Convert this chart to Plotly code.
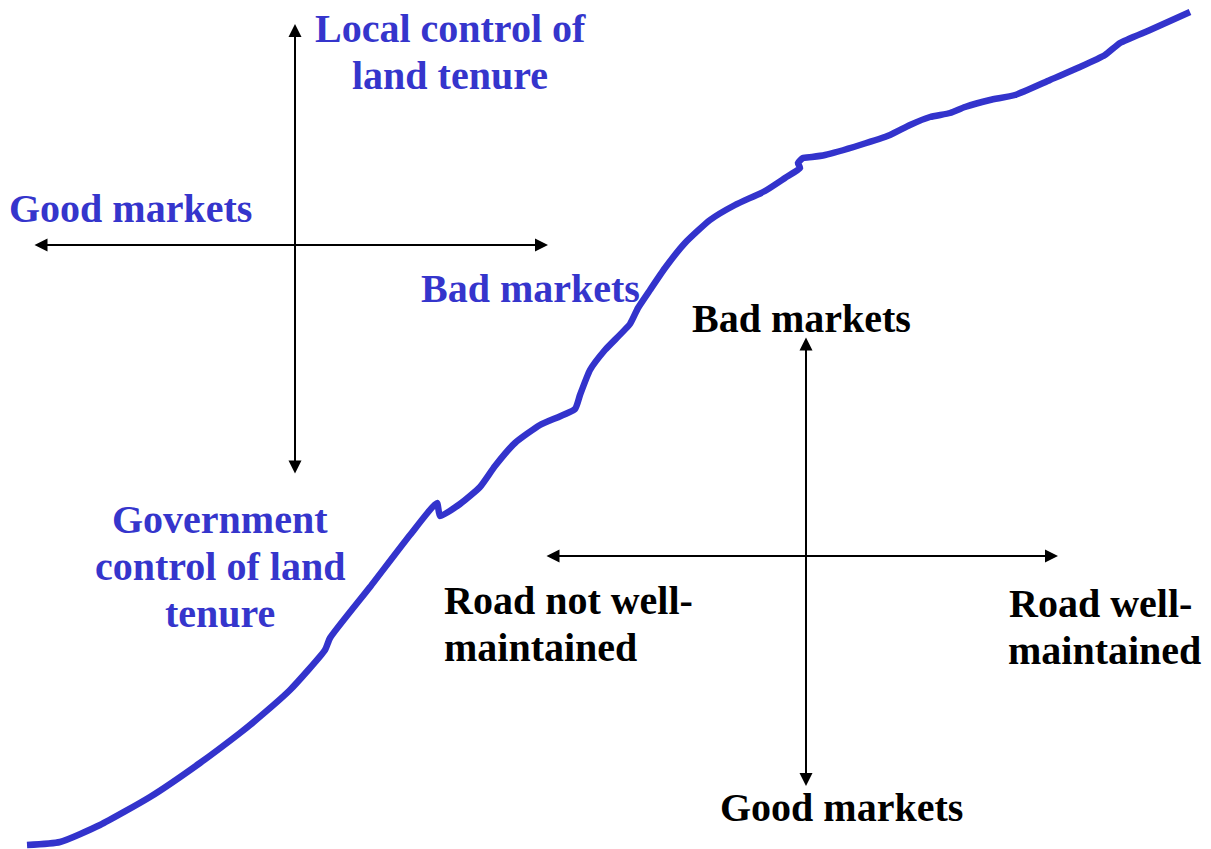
import plotly.graph_objects as go

# Curve (diagram trace), pixel-like coordinates (y downwards)
curve_x = [27, 60, 100, 150, 200, 240, 250, 290, 325, 330, 370, 410, 437, 440, 460, 480, 495,
           515, 540, 575, 580, 590, 605, 630, 638, 650, 665, 685, 710, 735, 765, 785, 800,
           798, 803, 812, 825, 860, 890, 910, 930, 950, 965, 990, 1015, 1050, 1080, 1105,
           1120, 1150, 1190]
curve_y = [845, 842, 825, 797, 763, 733, 725, 690, 650, 638, 587, 535, 503, 516, 504, 487, 466,
           443, 425, 409, 395, 370, 350, 324, 308, 290, 268, 243, 220, 205, 191, 178, 168,
           163, 158, 157, 155, 145, 135, 125, 117, 113, 107, 100, 95, 80, 67, 55,
           43, 30, 12]

BLUE = "#3333CC"
TEXT_BLUE = "#3535CC"

fig = go.Figure()
fig.add_trace(go.Scatter(x=curve_x, y=curve_y, mode="lines",
                         line=dict(color=BLUE, width=6.5, shape="spline", smoothing=0.5),
                         hoverinfo="skip", showlegend=False))

# Double-headed arrows: (x0, y0, x1, y1)
arrows = [(295, 475, 295, 24), (33, 245, 548, 245), (806, 336, 806, 786), (545, 556, 1058, 556)]
for x0, y0, x1, y1 in arrows:
    fig.add_annotation(x=x1, y=y1, ax=x0, ay=y0, xref="x", yref="y", axref="x", ayref="y",
                       showarrow=True, arrowhead=2, startarrowhead=2, arrowside="end+start",
                       arrowsize=1.3, startarrowsize=1.3, arrowwidth=2, arrowcolor="black", text="")

FONT = "Liberation Serif"
labels = [
    ("Local control of", 450, 28, TEXT_BLUE, "center"),
    ("land tenure", 450, 75, TEXT_BLUE, "center"),
    ("Good markets", 130, 208, TEXT_BLUE, "center"),
    ("Bad markets", 530, 288, TEXT_BLUE, "center"),
    ("Government", 220, 519, TEXT_BLUE, "center"),
    ("control of land", 220, 566, TEXT_BLUE, "center"),
    ("tenure", 220, 613, TEXT_BLUE, "center"),
    ("Bad markets", 801, 318, "black", "center"),
    ("Road not well-", 443, 600, "black", "left"),
    ("maintained", 443, 647, "black", "left"),
    ("Road well-", 1008, 603, "black", "left"),
    ("maintained", 1007, 650, "black", "left"),
    ("Good markets", 841, 807, "black", "center"),
]
for t, x, y, c, al in labels:
    fig.add_annotation(x=x, y=y, xref="x", yref="y", text="<b>%s</b>" % t, showarrow=False,
                       xanchor=al, yanchor="middle", borderpad=0,
                       font=dict(family=FONT, size=40, color=c))

fig.update_layout(
    width=1211, height=849, margin=dict(l=0, r=0, t=0, b=0),
    paper_bgcolor="white", plot_bgcolor="white",
    xaxis=dict(range=[0, 1211], visible=False, fixedrange=True),
    yaxis=dict(range=[849, 0], visible=False, fixedrange=True),
)
# remove the default page margin so the figure sits at the window's top-left corner
fig.write_html("out.html", config={"displayModeBar": False},
               post_script="document.body.style.margin='0px';")
